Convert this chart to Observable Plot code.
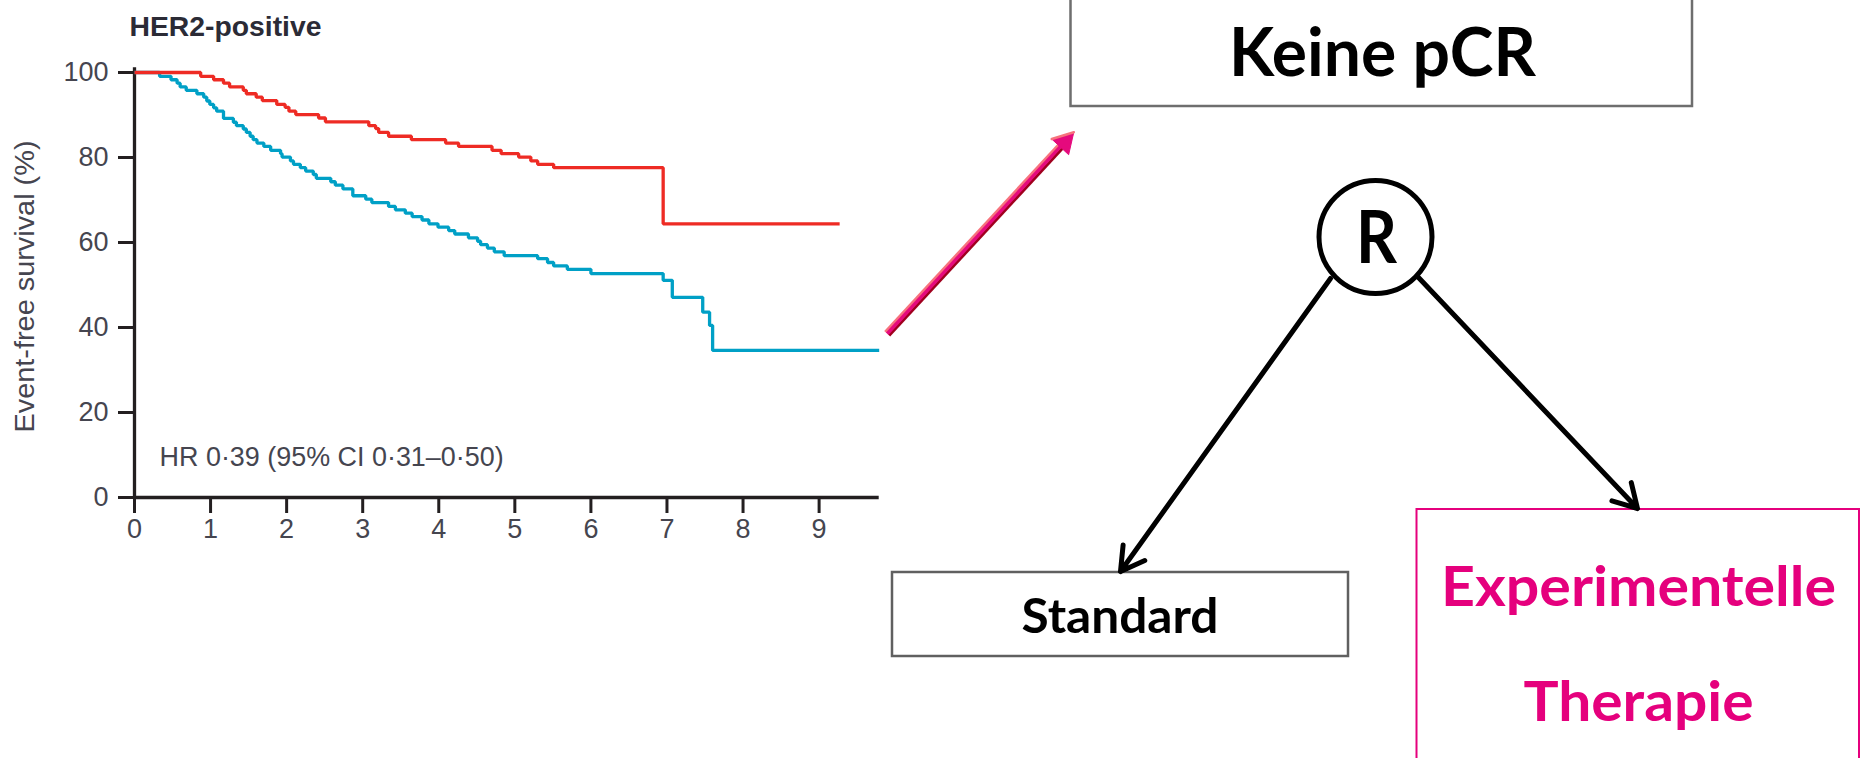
<!DOCTYPE html>
<html>
<head>
<meta charset="utf-8">
<script src="https://cdn.jsdelivr.net/npm/d3@7"></script>
<script src="https://cdn.jsdelivr.net/npm/@observablehq/plot@0.6"></script>
<style>
  html, body { margin: 0; padding: 0; background: #fff; width: 1860px; height: 758px; overflow: hidden; }
  #km, #diagram { position: absolute; left: 0; top: 0; }
  #diagram { pointer-events: none; }
</style>
</head>
<body>
<div id="km"></div>
<div id="diagram"></div>
<script>
// ---------- data ----------
const chartTitle = "HER2-positive";
const yLabel = "Event-free survival (%)";
const hrLabel = "HR 0·39 (95% CI 0·31–0·50)";
const xTicks = [0, 1, 2, 3, 4, 5, 6, 7, 8, 9];
const yTicks = [0, 20, 40, 60, 80, 100];
const xMax = 9.79;

// pCR (red)
const pcrTime = [0, 0.87, 1.04, 1.17, 1.25, 1.43, 1.47, 1.60, 1.68, 1.87, 1.98, 2.03, 2.12, 2.42, 2.51, 3.08, 3.17, 3.21, 3.34, 3.64, 4.09, 4.26, 4.70, 4.82, 5.05, 5.21, 5.30, 5.51, 6.95, 9.27];
const pcrSurv = [100, 99.1, 98.3, 97.5, 96.6, 95.8, 95.0, 94.2, 93.4, 92.5, 91.8, 90.9, 90.1, 89.3, 88.4, 87.5, 86.8, 85.9, 85.0, 84.2, 83.4, 82.6, 81.7, 80.9, 80.1, 79.2, 78.4, 77.6, 64.4, 64.4];

// no pCR (blue)
const noPcrTime = [0, 0.33, 0.48, 0.56, 0.60, 0.68, 0.82, 0.91, 0.95, 0.99, 1.04, 1.08, 1.17, 1.30, 1.34, 1.43, 1.47, 1.52, 1.56, 1.61, 1.70, 1.79, 1.92, 1.94, 2.05, 2.09, 2.18, 2.25, 2.35, 2.39, 2.58, 2.64, 2.74, 2.87, 3.04, 3.12, 3.34, 3.43, 3.56, 3.65, 3.78, 3.87, 3.99, 4.13, 4.21, 4.39, 4.51, 4.55, 4.64, 4.73, 4.86, 5.30, 5.43, 5.51, 5.69, 6.00, 6.95, 7.07, 7.47, 7.56, 7.60, 9.79];
const noPcrSurv = [100, 99.1, 98.3, 97.5, 96.6, 95.8, 95.0, 94.2, 93.3, 92.5, 91.7, 90.9, 89.2, 88.3, 87.5, 86.7, 85.9, 85.0, 84.2, 83.4, 82.6, 81.7, 80.9, 80.1, 79.2, 78.4, 77.6, 76.8, 76.0, 75.1, 74.3, 73.5, 72.6, 71.0, 70.2, 69.4, 68.5, 67.7, 66.9, 66.1, 65.3, 64.4, 63.6, 62.8, 62.0, 61.1, 60.3, 59.5, 58.7, 57.8, 56.9, 56.2, 55.3, 54.5, 53.7, 52.7, 51.1, 47.1, 43.6, 40.5, 34.6, 34.6];

// diagram labels
const topLabel = "Keine pCR";
const randLabel = "R";
const standardLabel = "Standard";
const expLabel1 = "Experimentelle";
const expLabel2 = "Therapie";

// ---------- tables ----------
const pcr = pcrTime.map((t, i) => ({t, s: pcrSurv[i]}));
const noPcr = noPcrTime.map((t, i) => ({t, s: noPcrSurv[i]}));

const axisColor = "#231f20";
const textColor = "#45454f";
const redColor = "#ee2b24";
const blueColor = "#00a0c6";
const magenta = "#e5007d";

const km = Plot.plot({
  width: 900,
  height: 560,
  marginLeft: 134,
  marginRight: 21.3,
  marginTop: 72,
  marginBottom: 63,
  x: {domain: [0, xMax], label: null},
  y: {domain: [0, 100], label: null},
  style: {fontFamily: "'Liberation Sans', Arial, sans-serif", background: "white", overflow: "visible"},
  marks: [
    Plot.axisX(xTicks, {tickSize: 16, tickPadding: 5, fontSize: 27, stroke: axisColor, strokeWidth: 3, fill: textColor, label: null}),
    Plot.axisY(yTicks, {tickSize: 16, tickPadding: 10, fontSize: 27, stroke: axisColor, strokeWidth: 3, fill: textColor, label: null}),
    Plot.ruleY([0], {stroke: axisColor, strokeWidth: 3.3}),
    Plot.ruleX([0], {y1: 0, y2: 101.1, stroke: axisColor, strokeWidth: 3.3}),
    Plot.line(noPcr, {x: "t", y: "s", curve: "step-after", stroke: blueColor, strokeWidth: 3.3, strokeLinejoin: "miter", strokeLinecap: "butt"}),
    Plot.line(pcr, {x: "t", y: "s", curve: "step-after", stroke: redColor, strokeWidth: 3.3, strokeLinejoin: "miter", strokeLinecap: "butt"}),
    Plot.text([hrLabel], {x: 0.33, y: 7.3, textAnchor: "start", lineAnchor: "bottom", fontSize: 27, fill: textColor}),
    Plot.text([chartTitle], {frameAnchor: "top-left", dx: -5, dy: -37, textAnchor: "start", lineAnchor: "bottom", fontSize: 28, fontWeight: "bold", fill: "#2b2b36"}),
    Plot.text([yLabel], {frameAnchor: "left", rotate: -90, dx: -109, dy: 1.5, textAnchor: "middle", lineAnchor: "middle", fontSize: 27, fill: textColor})
  ]
});
document.getElementById("km").appendChild(km);

// ---------- diagram layout (pixel positions) ----------
const keineBox = {x1: 1070.5, x2: 1692, y1: -10, y2: 106};
const standardBox = {x1: 892, x2: 1348, y1: 572, y2: 656};
const expBox = {x1: 1416.5, x2: 1859, y1: 509, y2: 775};
const circle = {x: 1375, y: 236.5};
const leftArrow = {x1: 1330, y1: 278, x2: 1120, y2: 571};
const rightArrow = {x1: 1418, y1: 277, x2: 1637, y2: 508};
const pinkTail = [886.7, 333.3];
const pinkTip = [1073.3, 131.7];

const texts = [
  {label: topLabel, x: 1382, y: 75, size: 67, color: "#000"},
  {label: randLabel, x: 1376, y: 262, size: 72, color: "#000"},
  {label: standardLabel, x: 1119.5, y: 632, size: 47, color: "#000"},
  {label: expLabel1, x: 1638, y: 605, size: 56, color: magenta},
  {label: expLabel2, x: 1638, y: 720, size: 56, color: magenta}
];

// pink arrow geometry
const dx = pinkTip[0] - pinkTail[0], dy = pinkTip[1] - pinkTail[1];
const len = Math.hypot(dx, dy);
const u = [dx / len, dy / len];
const n = [-u[1], u[0]]; // perpendicular
const nn = n[1] > 0 ? n : [-n[0], -n[1]]; // pointing down-right
const headLen = 20, headW = 23;
const shaftEnd = [pinkTip[0] - u[0] * (headLen - 3), pinkTip[1] - u[1] * (headLen - 3)];
const base = [pinkTip[0] - u[0] * headLen, pinkTip[1] - u[1] * headLen];
const off = (p, k) => [p[0] + nn[0] * k, p[1] + nn[1] * k];
const shaft = (k) => ({x1: off(pinkTail, k)[0], y1: off(pinkTail, k)[1], x2: off(shaftEnd, k)[0], y2: off(shaftEnd, k)[1]});
const head = [pinkTip, off(base, headW / 2), off(base, -headW / 2), pinkTip].map(p => ({x: p[0], y: p[1]}));
const headHi = [pinkTip, off(base, -headW / 2)].map(p => ({x: p[0], y: p[1]}));

const boldFont = "Lato, 'Open Sans', sans-serif";

const diagram = Plot.plot({
  width: 1860,
  height: 758,
  margin: 0,
  x: {domain: [0, 1860], range: [0, 1860], axis: null},
  y: {domain: [0, 758], range: [0, 758], axis: null},
  style: {background: "transparent", overflow: "visible"},
  marks: [
    Plot.rect([keineBox], {x1: "x1", x2: "x2", y1: "y1", y2: "y2", fill: "none", stroke: "#6e6e6e", strokeWidth: 2.5}),
    Plot.rect([standardBox], {x1: "x1", x2: "x2", y1: "y1", y2: "y2", fill: "none", stroke: "#606060", strokeWidth: 2.5}),
    Plot.rect([expBox], {x1: "x1", x2: "x2", y1: "y1", y2: "y2", fill: "none", stroke: magenta, strokeWidth: 2}),
    Plot.arrow([leftArrow, rightArrow], {x1: "x1", y1: "y1", x2: "x2", y2: "y2", stroke: "#000", strokeWidth: 5, headLength: 8, headAngle: 60}),
    Plot.dot([circle], {x: "x", y: "y", r: 56.5, stroke: "#000", strokeWidth: 5, fill: "white"}),
    Plot.link([shaft(2.6)], {x1: "x1", y1: "y1", x2: "x2", y2: "y2", stroke: "#a0001e", strokeWidth: 3}),
    Plot.link([shaft(-2.6)], {x1: "x1", y1: "y1", x2: "x2", y2: "y2", stroke: "#f7737d", strokeWidth: 3}),
    Plot.link([shaft(0)], {x1: "x1", y1: "y1", x2: "x2", y2: "y2", stroke: "#e50a7d", strokeWidth: 3.5}),
    Plot.line(head, {x: "x", y: "y", fill: "#e50a7d", stroke: "#e50a7d", strokeWidth: 1, curve: "linear"}),
    Plot.line(headHi, {x: "x", y: "y", stroke: "#f7737d", strokeWidth: 2.5, curve: "linear"}),
    ...texts.map(t => Plot.text([t], {x: "x", y: "y", text: "label", textAnchor: "middle", lineAnchor: "bottom", fontSize: t.size, fontWeight: "bold", fontFamily: boldFont, fill: t.color}))
  ]
});
document.getElementById("diagram").appendChild(diagram);

// fit text widths to the reference
const widths = {
  [topLabel]: 307, [randLabel]: 41, [standardLabel]: 197, [expLabel1]: 395, [expLabel2]: 230,
  [chartTitle]: 192, [hrLabel]: 344, [yLabel]: 292
};
document.querySelectorAll("svg text").forEach(el => {
  const w = widths[el.textContent];
  if (w) {
    el.setAttribute("textLength", w);
    el.setAttribute("lengthAdjust", "spacingAndGlyphs");
  }
});
</script>
</body>
</html>
